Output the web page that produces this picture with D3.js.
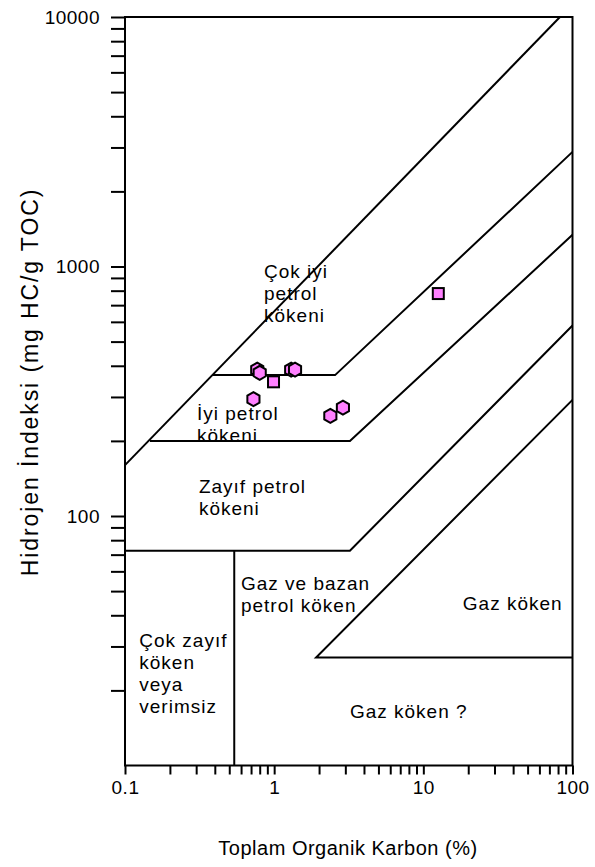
<!DOCTYPE html>
<html>
<head>
<meta charset="utf-8">
<script src="https://cdn.jsdelivr.net/npm/d3@7"></script>
<style>
  html, body { margin: 0; padding: 0; background: #fff; }
  svg { display: block; font-family: "Liberation Sans", Arial, sans-serif; }
</style>
</head>
<body>
<svg id="chart" width="595" height="867"></svg>
<script>
// Source-rock potential diagram: TOC (%) vs Hydrogen Index (mg HC/g TOC)

// Zone boundaries as [TOC, HI] vertices
const upperLimit   = [[0.1, 160], [82.4, 10000]];
const veryGoodBase = [[0.385, 367], [2.56, 367], [100, 2880]];
const goodBase     = [[0.147, 200], [3.22, 200], [100, 1340]];
const fairBase     = [[0.1, 72.6], [3.22, 72.6], [100, 580]];
const poorDivider  = [[0.54, 72.6], [0.54, 10]];
const gasWedge     = [[100, 27.1], [1.91, 27.1], [100, 292]];
const boundaries = [upperLimit, veryGoodBase, goodBase, fairBase, poorDivider, gasWedge];

// Samples
const hexTOC = [0.77, 0.80, 1.30, 1.38, 0.726, 2.38, 2.89];
const hexHI  = [386, 375, 386, 386, 294, 252, 272];
const sqTOC  = [0.99, 12.6];
const sqHI   = [345, 779];

// Axis ticks
const xTickValues = [0.1,0.2,0.3,0.4,0.5,0.6,0.7,0.8,0.9,1,2,3,4,5,6,7,8,9,10,20,30,40,50,60,70,80,90,100];
const yTickValues = [20,30,40,50,60,70,80,90,100,200,300,400,500,600,700,800,900,1000,2000,3000,4000,5000,6000,7000,8000,9000,10000];
const xTickLabels = {0.1: "0.1", 1: "1", 10: "10", 100: "100"};
const yTickLabels = {100: "100", 1000: "1000", 10000: "10000"};

// Zone names, anchored at [TOC, HI] of the first line's start
const zoneNames  = [
  ["Çok iyi", "petrol", "kökeni"],
  ["İyi petrol", "kökeni"],
  ["Zayıf petrol", "kökeni"],
  ["Gaz ve bazan", "petrol köken"],
  ["Gaz köken"],
  ["Çok zayıf", "köken", "veya", "verimsiz"],
  ["Gaz köken ?"]
];
const zoneTOC = [0.855, 0.304, 0.313, 0.599, 18.4, 0.1247, 3.22];
const zoneHI  = [900, 242.6, 123.6, 50.5, 42.0, 29.9, 15.5];

const xTitle = "Toplam Organik Karbon (%)";
const yTitle = "Hidrojen İndeksi (mg HC/g TOC)";

// Layout
const plotLeft = 125, plotRight = 572.5, plotTop = 17, plotBottom = 765.5;

const svg = d3.select("#chart");

const x = d3.scaleLog().domain([0.1, 100]).range([plotLeft, plotRight]);
const y = d3.scaleLog().domain([10, 10000]).range([plotBottom, plotTop]);

// Axes
const yAxis = d3.axisLeft(y)
  .tickValues(yTickValues)
  .tickFormat(d => yTickLabels[d] || "")
  .tickSize(14)
  .tickSizeOuter(0)
  .tickPadding(11);

const xAxis = d3.axisBottom(x)
  .tickValues(xTickValues)
  .tickFormat(d => xTickLabels[d] || "")
  .tickSize(9)
  .tickSizeOuter(0)
  .tickPadding(6);

const gy = svg.append("g").attr("transform", `translate(${plotLeft},0)`).call(yAxis);
const gx = svg.append("g").attr("transform", `translate(0,${plotBottom})`).call(xAxis);

[gx, gy].forEach(g => {
  g.select(".domain").remove();
  g.selectAll(".tick line").attr("stroke", "#000").attr("stroke-width", 2);
  g.selectAll(".tick text")
    .attr("fill", "#000")
    .style("font-size", "19px")
    .style("letter-spacing", "0.5px")
    .style("font-family", "'Liberation Sans', Arial, sans-serif");
});

// Plot frame
svg.append("rect")
  .attr("x", plotLeft).attr("y", plotTop)
  .attr("width", plotRight - plotLeft).attr("height", plotBottom - plotTop)
  .attr("fill", "none").attr("stroke", "#000").attr("stroke-width", 2);

// Zone boundaries
const line = d3.line().x(d => x(d[0])).y(d => y(d[1]));
svg.append("g").selectAll("path")
  .data(boundaries)
  .join("path")
  .attr("d", line)
  .attr("fill", "none")
  .attr("stroke", "#000")
  .attr("stroke-width", 2)
  .attr("stroke-linejoin", "miter");

// Zone names
const zg = svg.append("g")
  .style("font-size", "19px")
  .style("letter-spacing", "1px")
  .attr("fill", "#000");
zoneNames.forEach((lines, i) => {
  const t = zg.append("text")
    .attr("x", x(zoneTOC[i]))
    .attr("y", y(zoneHI[i]));
  lines.forEach((s, j) => {
    t.append("tspan")
      .attr("x", x(zoneTOC[i]))
      .attr("dy", j === 0 ? 0 : 22)
      .text(s);
  });
});

// Sample markers
const hexR = 7;
const hexPath = d3.range(6).map(k => {
  const a = Math.PI / 3 * k - Math.PI / 2;
  return [hexR * Math.cos(a), hexR * Math.sin(a)];
});
const hexD = "M" + hexPath.map(p => p.join(",")).join("L") + "Z";

svg.append("g").selectAll("path")
  .data(hexTOC.map((t, i) => [t, hexHI[i]]))
  .join("path")
  .attr("d", hexD)
  .attr("transform", d => `translate(${x(d[0])},${y(d[1])})`)
  .attr("fill", "#ff80ff")
  .attr("stroke", "#000")
  .attr("stroke-width", 2);

const sq = 11;
svg.append("g").selectAll("rect")
  .data(sqTOC.map((t, i) => [t, sqHI[i]]))
  .join("rect")
  .attr("x", d => x(d[0]) - sq / 2)
  .attr("y", d => y(d[1]) - sq / 2)
  .attr("width", sq).attr("height", sq)
  .attr("fill", "#ff80ff")
  .attr("stroke", "#000")
  .attr("stroke-width", 2);

// Axis titles
svg.append("text")
  .attr("x", 348).attr("y", 855)
  .attr("text-anchor", "middle")
  .style("font-size", "20px")
  .style("letter-spacing", "0.5px")
  .text(xTitle);

svg.append("text")
  .attr("transform", "translate(38,382) rotate(-90)")
  .attr("text-anchor", "middle")
  .style("font-size", "23px")
  .style("letter-spacing", "1.9px")
  .text(yTitle);
</script>
</body>
</html>
